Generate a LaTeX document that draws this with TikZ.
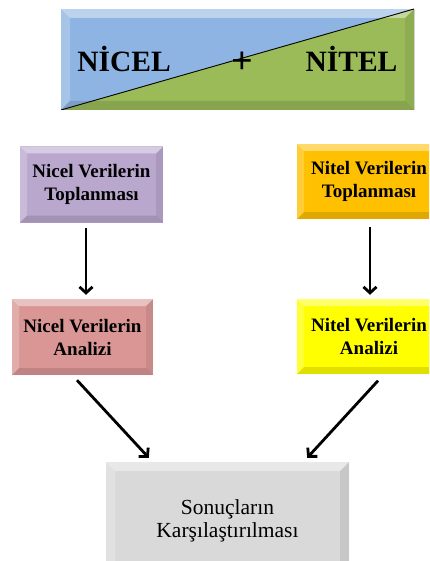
\documentclass[tikz,border=0pt]{standalone}
\usepackage{fontspec}
\setmainfont{Liberation Serif}
\usetikzlibrary{arrows.meta}

\definecolor{skyC}{RGB}{141,180,226}
\definecolor{leafC}{RGB}{155,187,89}
\definecolor{lilacC}{RGB}{185,167,206}
\definecolor{amberC}{RGB}{255,192,0}
\definecolor{roseC}{RGB}{217,150,148}
\definecolor{lemonC}{RGB}{255,255,0}
\definecolor{ashC}{RGB}{217,217,217}

% bevelled edges painted inside the current node path
\newcommand\bevelpaint[1]{%
  \path (path picture bounding box.north west) coordinate (pA)
        (path picture bounding box.north east) coordinate (pB)
        (path picture bounding box.south east) coordinate (pC)
        (path picture bounding box.south west) coordinate (pD)
        ([xshift=#1pt,yshift=-#1pt]pA) coordinate (qA)
        ([xshift=-#1pt,yshift=-#1pt]pB) coordinate (qB)
        ([xshift=-#1pt,yshift=#1pt]pC) coordinate (qC)
        ([xshift=#1pt,yshift=#1pt]pD) coordinate (qD);
  \fill[white,opacity=.42] (pA) -- (pB) -- (qB) -- (qA) -- cycle;
  \fill[white,opacity=.22] (pA) -- (qA) -- (qD) -- (pD) -- cycle;
  \fill[black,opacity=.12] (pD) -- (qD) -- (qC) -- (pC) -- cycle;
  \fill[black,opacity=.08] (pB) -- (pC) -- (qC) -- (qB) -- cycle;
}

\tikzset{
  box/.style={rectangle, inner sep=0pt, align=center,
    font=\bfseries\fontsize{19}{23}\selectfont},
  bevel/.style={path picture={\bevelpaint{#1}}},
  headtxt/.style={inner sep=0pt, anchor=base, font=\bfseries\fontsize{29.5}{32}\selectfont},
  arr/.style={line width=2.8pt, -{Straight Barb[length=6pt,width=13pt]}},
}

\begin{document}
\begin{tikzpicture}[x=1pt,y=-1pt]
  \useasboundingbox (0,0) rectangle (429,561);
  \clip (0,0) rectangle (429,561);

  % title banner split along its diagonal
  \node[rectangle, inner sep=0pt, fill=skyC, minimum width=353pt, minimum height=101pt,
        path picture={
          \fill[leafC] (path picture bounding box.south west) -- (path picture bounding box.south east)
                       -- (path picture bounding box.north east) -- cycle;
          \bevelpaint{9}
          \draw[black, line width=0.9pt] (path picture bounding box.south west)
                       -- (path picture bounding box.north east);
          \draw[black, line width=1pt] (path picture bounding box.north east)
                       -- (path picture bounding box.south east);
        }] (banner) at (237.5,59.5) {};
  \node[headtxt] (nicel) at (124,72) {NİCEL};
  \node[headtxt] (nitel) at (351.5,72) {NİTEL};
  \node[inner sep=0pt, font=\bfseries\fontsize{38}{40}\selectfont] (plus) at (242,63) {+};

  % process boxes
  \node[box, fill=lilacC, minimum width=143pt, minimum height=76pt, bevel=7]
    (nq1) at (91.5,184.5) {Nicel Verilerin\\Toplanması};
  \node[box, fill=amberC, minimum width=144pt, minimum height=75pt, bevel=7]
    (nl1) at (369,181.5) {Nitel Verilerin\\Toplanması};
  \node[box, fill=roseC, minimum width=141pt, minimum height=76pt, bevel=7]
    (nq2) at (82.5,337) {Nicel Verilerin\\Analizi};
  \node[box, fill=lemonC, minimum width=144pt, minimum height=75pt, bevel=7]
    (nl2) at (369,336.5) {Nitel Verilerin\\Analizi};
  \node[box, fill=ashC, minimum width=243pt, minimum height=118pt, bevel=9,
        font=\fontsize{21.5}{23}\selectfont]
    (res) at (227.5,521) {Sonuçların\\Karşılaştırılması};

  % connectors
  \draw[arr] ([xshift=-5.5pt,yshift=-5pt]nq1.south) -- ([xshift=3.5pt,yshift=4pt]nq2.north);
  \draw[arr] ([xshift=1pt,yshift=-8pt]nl1.south) -- ([xshift=1pt,yshift=4pt]nl2.north);
  \draw[arr] ([xshift=-5.5pt,yshift=-5pt]nq2.south) -- ([xshift=43pt,yshift=4pt]res.north west);
  \draw[arr] ([xshift=9pt,yshift=-6.5pt]nl2.south) -- ([xshift=-42pt,yshift=4pt]res.north east);
\end{tikzpicture}
\end{document}
